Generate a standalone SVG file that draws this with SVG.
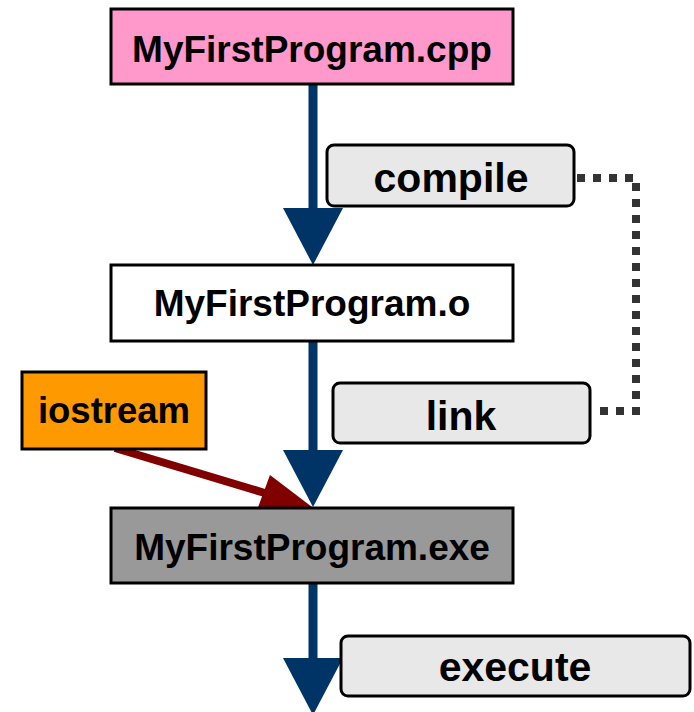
<svg xmlns="http://www.w3.org/2000/svg" width="694" height="712" viewBox="0 0 694 712">
<style>
.box{stroke:#000;stroke-width:3}
.lbl{fill:#e8e8e8;stroke:#000;stroke-width:3}
.t{font-family:"Liberation Sans",Arial,sans-serif;font-weight:bold;text-anchor:middle;fill:#000}
.flow{stroke:#003366;stroke-width:9;fill:none}
.head{fill:#003366}
</style>
<rect width="694" height="712" fill="#fff"/>
<g id="connectors">
<line class="flow" x1="313" y1="84" x2="313" y2="215"/>
<polygon class="head" points="283,208 343,208 313,265"/>
<line class="flow" x1="313" y1="341" x2="313" y2="455"/>
<polygon class="head" points="283,450 343,450 313,507"/>
<line class="flow" x1="313" y1="583" x2="313" y2="665"/>
<polygon class="head" points="283,658 343,658 313,715"/>
<line x1="115" y1="448" x2="268" y2="494" stroke="#800000" stroke-width="8"/>
<polygon points="312,507 257,510 270,475" fill="#800000"/>
<polyline points="577,178 636,178 636,411 594,411" fill="none" stroke="#333" stroke-width="8" stroke-dasharray="8 8"/>
</g>
<g id="cpp">
<rect class="box" x="111" y="9" width="402" height="75" fill="#ff99cc"/>
<text class="t" x="312" y="62" font-size="37">MyFirstProgram.cpp</text>
</g>
<g id="compile">
<rect class="lbl" x="327" y="145" width="247" height="61" rx="7"/>
<text class="t" x="451" y="192" font-size="41">compile</text>
</g>
<g id="obj">
<rect class="box" x="111" y="265" width="402" height="76" fill="#fff"/>
<text class="t" x="312" y="316" font-size="37">MyFirstProgram.o</text>
</g>
<g id="iostream">
<rect class="box" x="22" y="372" width="184" height="77" fill="#ff9900"/>
<text class="t" x="114" y="423" font-size="36.5">iostream</text>
</g>
<g id="link">
<rect class="lbl" x="333" y="383" width="257" height="60" rx="7"/>
<text class="t" x="461" y="430" font-size="41">link</text>
</g>
<g id="exe">
<rect class="box" x="111" y="508" width="402" height="75" fill="#999999"/>
<text class="t" x="312" y="560" font-size="37">MyFirstProgram.exe</text>
</g>
<g id="execute">
<rect class="lbl" x="341" y="636" width="349" height="60" rx="7"/>
<text class="t" x="515" y="681" font-size="41">execute</text>
</g>
</svg>
